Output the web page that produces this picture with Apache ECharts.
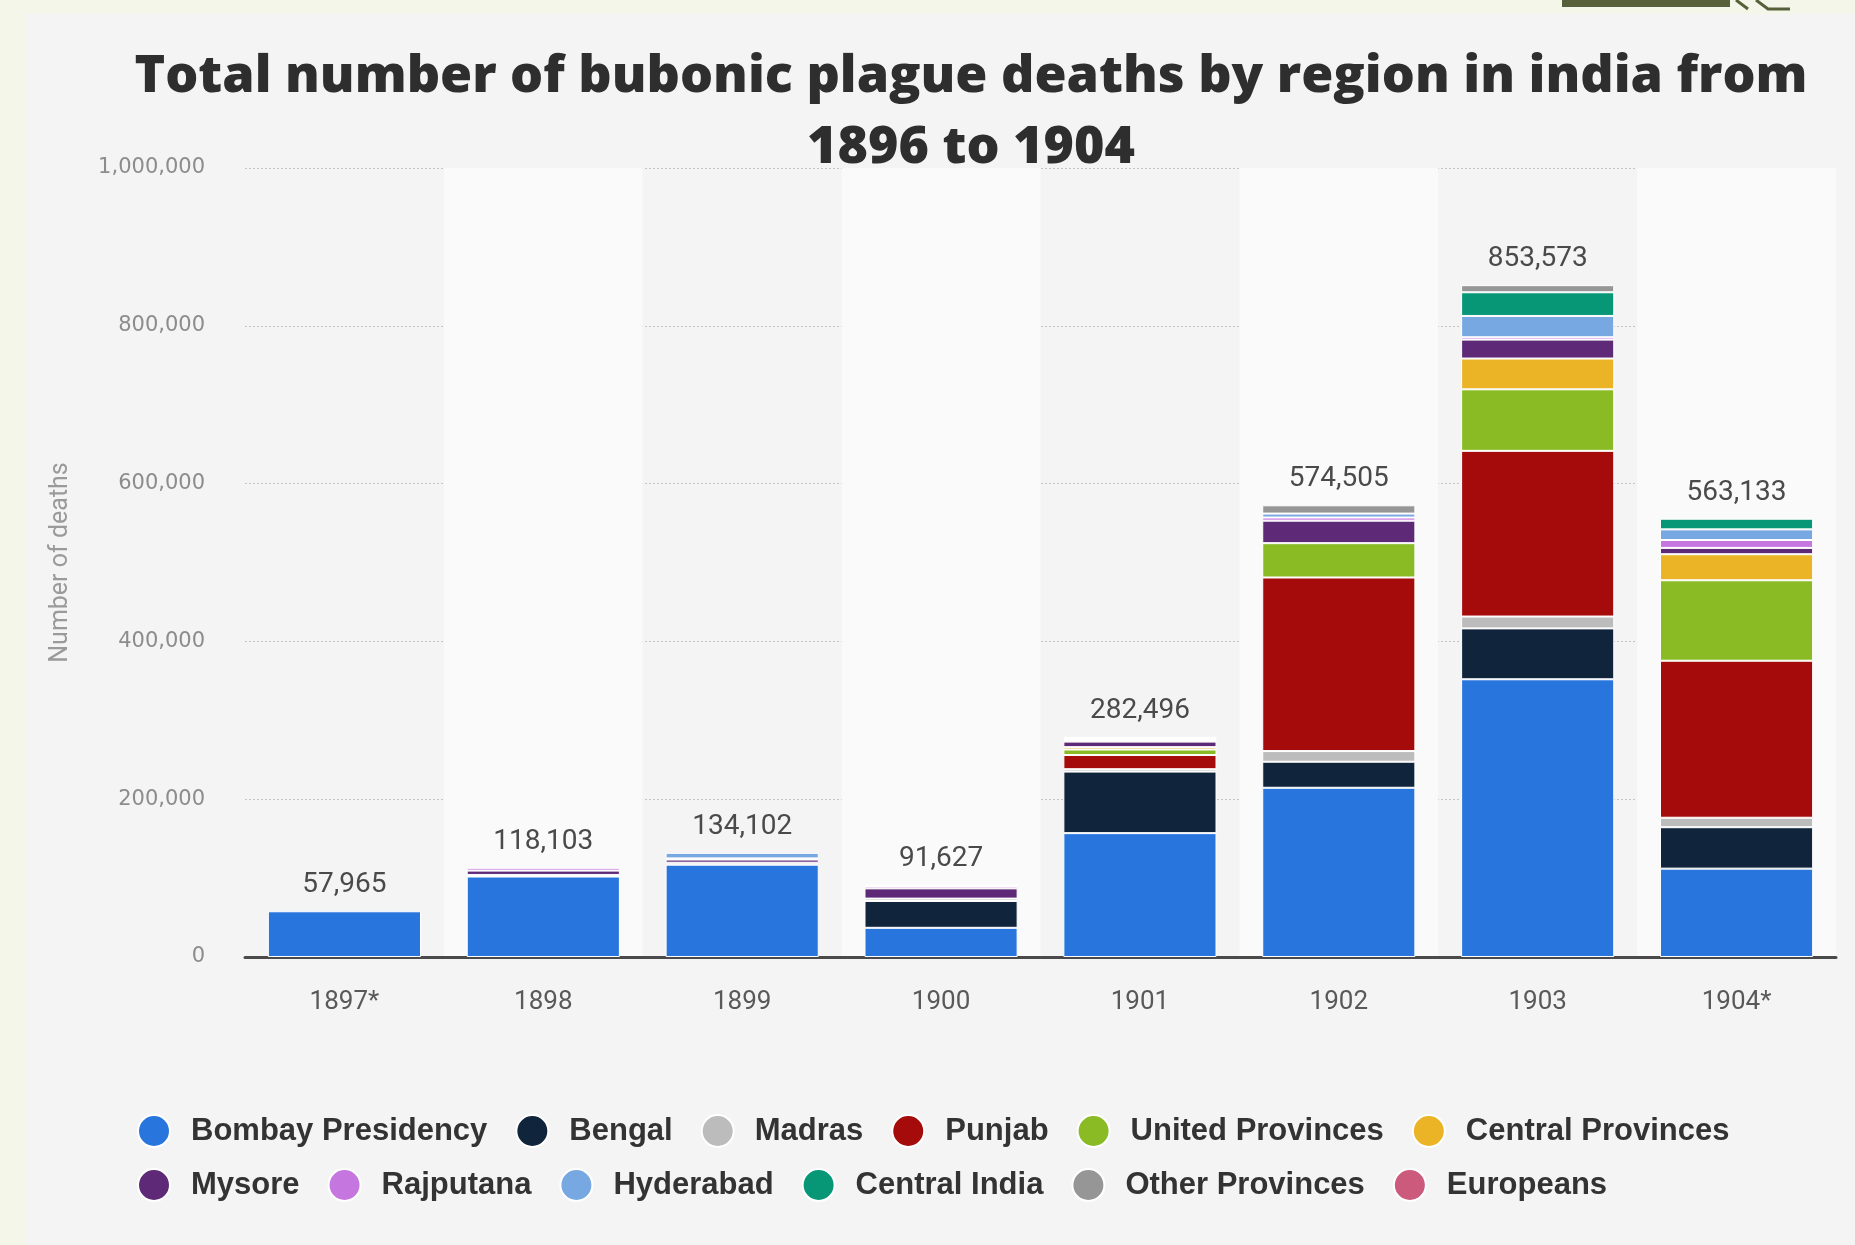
<!DOCTYPE html>
<html>
<head>
<meta charset="utf-8">
<script src="https://cdn.jsdelivr.net/npm/echarts@6/dist/echarts.min.js"></script>
<style>
  html, body { margin: 0; padding: 0; background: #f5f6ea; }
  #chart { width: 1855px; height: 1245px; }
</style>
</head>
<body>
<div id="chart"></div>
<script>
// categories and printed totals
var years = ["1897*", "1898", "1899", "1900", "1901", "1902", "1903", "1904*"];
var totals = [57965, 118103, 134102, 91627, 282496, 574505, 853573, 563133];
var yTicks = [0, 200000, 400000, 600000, 800000, 1000000];

// deaths per region
var bombay = [57965, 102000, 117000, 37000, 157000, 214500, 352000, 112000];
var bengal = [0, 0, 0, 34000, 78000, 33000, 64500, 52500];
var madras = [0, 2000, 2500, 3000, 3000, 13500, 15000, 12000];
var punjab = [0, 0, 0, 0, 18000, 220000, 210000, 199000];
var unitedProv = [0, 0, 0, 0, 7000, 43500, 78000, 102000];
var centralProv = [0, 0, 0, 0, 3000, 0, 39000, 33000];
var mysore = [0, 5500, 4000, 13000, 7000, 28500, 24000, 8000];
var rajputana = [0, 3500, 1500, 3000, 2000, 4000, 3000, 10000];
var hyderabad = [0, 0, 7000, 0, 1500, 5000, 27000, 13500];
var centralIndia = [0, 0, 0, 0, 1000, 0, 30000, 13500];
var otherProv = [0, 0, 0, 1600, 1500, 10500, 9000, 0];
var europeans = [0, 0, 0, 0, 0, 0, 0, 0];

var regions = [
  { name: "Bombay Presidency", color: "#2876dd", data: bombay },
  { name: "Bengal", color: "#10253b", data: bengal },
  { name: "Madras", color: "#bcbcbc", data: madras },
  { name: "Punjab", color: "#a50b0b", data: punjab },
  { name: "United Provinces", color: "#8abb25", data: unitedProv },
  { name: "Central Provinces", color: "#ebb426", data: centralProv },
  { name: "Mysore", color: "#5e2a78", data: mysore },
  { name: "Rajputana", color: "#c677df", data: rajputana },
  { name: "Hyderabad", color: "#77a8e2", data: hyderabad },
  { name: "Central India", color: "#079676", data: centralIndia },
  { name: "Other Provinces", color: "#969696", data: otherProv },
  { name: "Europeans", color: "#cc5a7c", data: europeans },
];

var fmt = function (v) {
  return Number(v).toLocaleString("en-US");
};

var myChart = echarts.init(document.getElementById("chart"));

var series = regions.map(function (r) {
  return {
    name: r.name,
    type: "bar",
    stack: "deaths",
    barWidth: "77%",
    data: r.data.map(function (v) { return v === 0 ? "-" : v; }),
    itemStyle: {
      color: r.color,
      borderColor: "#ffffff",
      borderWidth: 1,
    },
  };
});

// empty bar on top of the stack that only carries the total label
series.push({
  name: "total",
  type: "bar",
  stack: "deaths",
  barWidth: "77%",
  silent: true,
  data: totals.map(function () { return 0; }),
  itemStyle: { color: "rgba(0,0,0,0)", borderWidth: 0 },
  label: {
    show: true,
    position: "top",
    distance: 12,
    fontFamily: "Roboto",
    fontSize: 28,
    color: "#4a4a4a",
    formatter: function (p) {
      return fmt(totals[p.dataIndex]);
    },
  },
});

var legendText = {
  fontFamily: "Liberation Sans",
  fontWeight: "bold",
  fontSize: 31,
  color: "#333333",
  padding: [0, 0, 0, 16],
};

var option = {
  backgroundColor: "#f4f4f4",
  animation: false,
  grid: {
    left: 245,
    right: 19,
    top: 168,
    bottom: 288,
  },
  graphic: [
    // cream margins round the card
    { type: "rect", shape: { x: 0, y: 0, width: 26, height: 1245 }, style: { fill: "#f5f6ea" } },
    { type: "rect", shape: { x: 0, y: 0, width: 1855, height: 14 }, style: { fill: "#f5f6ea" } },
    { type: "rect", shape: { x: 1562, y: 0, width: 168, height: 7 }, style: { fill: "#56603a" } },
    {
      type: "polyline",
      shape: { points: [[1736, 0], [1748, 9]] },
      style: { stroke: "#56603a", lineWidth: 3, fill: null },
    },
    {
      type: "polyline",
      shape: { points: [[1756, 0], [1768, 9], [1790, 9]] },
      style: { stroke: "#56603a", lineWidth: 3, fill: null },
    },
    {
      type: "text",
      x: 971,
      y: 42,
      style: {
        text: "Total number of bubonic plague deaths by region in india from\n1896 to 1904",
        textAlign: "center",
        textVerticalAlign: "top",
        font: "800 52px 'Open Sans'",
        lineHeight: 71,
        fill: "#2e2e2e",
      },
    },
  ],
  legend: [
    {
      left: 132,
      top: 1109,
      icon: "circle",
      itemWidth: 32,
      itemHeight: 32,
      itemGap: 28,
      textStyle: legendText,
      data: regions.slice(0, 6).map(function (r) { return r.name; }),
    },
    {
      left: 132,
      top: 1163,
      icon: "circle",
      itemWidth: 32,
      itemHeight: 32,
      itemGap: 28,
      textStyle: legendText,
      data: regions.slice(6).map(function (r) { return r.name; }),
    },
  ],
  xAxis: {
    type: "category",
    data: years,
    axisLine: { lineStyle: { color: "#4a4a4a", width: 3 } },
    axisTick: { show: false },
    axisLabel: {
      margin: 32,
      fontFamily: "Roboto",
      fontSize: 26,
      color: "#595959",
    },
    splitArea: {
      show: true,
      areaStyle: { color: ["rgba(0,0,0,0)", "#fafafa"] },
    },
  },
  yAxis: {
    type: "value",
    min: yTicks[0],
    max: yTicks[yTicks.length - 1],
    interval: yTicks[1] - yTicks[0],
    name: "Number of deaths",
    nameLocation: "middle",
    nameGap: 172,
    nameTextStyle: {
      fontFamily: "Roboto",
      fontSize: 25,
      color: "#9a9a9a",
    },
    axisLine: { show: false },
    axisTick: { show: false },
    axisLabel: {
      margin: 40,
      fontFamily: "DejaVu Sans",
      fontSize: 21,
      color: "#8c8c8c",
      formatter: fmt,
    },
    splitLine: {
      show: true,
      lineStyle: { color: "#c4c4c4", type: [2, 2], width: 1 },
    },
  },
  series: series,
};

myChart.setOption(option);
</script>
</body>
</html>
